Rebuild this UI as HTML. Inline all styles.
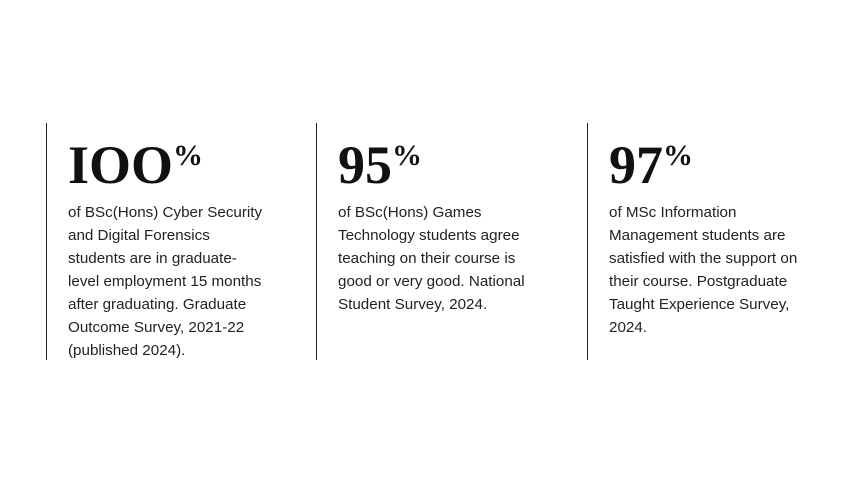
<!DOCTYPE html>
<html><head><style>
body{margin:0;width:850px;height:500px;background:#fff;position:relative;overflow:hidden;font-family:"Liberation Sans",sans-serif;color:#1a1a1a}
.col{position:absolute;top:123px;height:237px;border-left:1.5px solid #222}
.num{position:absolute;left:21px;top:12px;font-family:"Liberation Serif",serif;font-weight:bold;font-size:54px;line-height:60px;color:#111;white-space:nowrap}
.num sup{font-size:30px;position:relative;top:-9px;vertical-align:top;margin-left:0px;font-weight:bold}
.txt{position:absolute;left:21px;top:78px;font-size:15.2px;line-height:23px;color:#222;white-space:nowrap}
</style></head><body>
<div class="col" style="left:46px"><div class="num">IOO<sup>%</sup></div>
<div class="txt">of BSc(Hons) Cyber Security<br>and Digital Forensics<br>students are in graduate-<br>level employment 15 months<br>after graduating. Graduate<br>Outcome Survey, 2021-22<br>(published 2024).</div></div>
<div class="col" style="left:316px"><div class="num">95<sup>%</sup></div>
<div class="txt">of BSc(Hons) Games<br>Technology students agree<br>teaching on their course is<br>good or very good. National<br>Student Survey, 2024.</div></div>
<div class="col" style="left:587px"><div class="num">97<sup>%</sup></div>
<div class="txt">of MSc Information<br>Management students are<br>satisfied with the support on<br>their course. Postgraduate<br>Taught Experience Survey,<br>2024.</div></div>
</body></html>
